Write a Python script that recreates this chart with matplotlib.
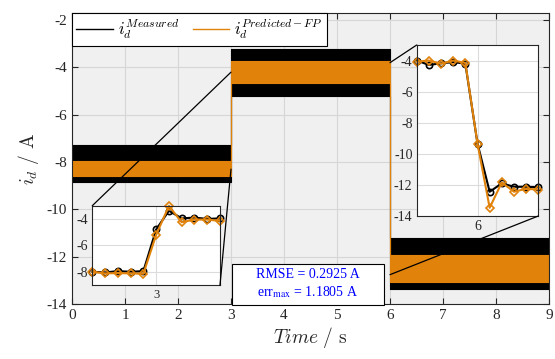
import numpy as np
import matplotlib
matplotlib.use("Agg")
import matplotlib.pyplot as plt
from matplotlib.patches import ConnectionPatch, Rectangle

plt.rcParams['font.family'] = ['Liberation Serif', 'DejaVu Serif']
plt.rcParams['mathtext.fontset'] = 'cm'

# --- data ---
# noisy traces, drawn as envelopes per segment (t in s, i_d in A)
seg_t = [0, 3, 3, 6, 6, 9]
meas_hi = [-7.3, -7.3, -3.22, -3.22, -11.2, -11.2]
meas_lo = [-8.85, -8.85, -5.2, -5.2, -13.38, -13.38]
pred_hi = [-7.95, -7.95, -3.72, -3.72, -11.93, -11.93]
pred_lo = [-8.58, -8.58, -4.67, -4.67, -13.06, -13.06]

# zoom 1 (around t = 3 s)
t_z1 = [2.9995, 2.9996, 2.9997, 2.9998, 2.9999, 3.0, 3.0001, 3.0002, 3.0003, 3.0004, 3.0005]
meas_z1 = [-8.0, -8.05, -7.95, -8.0, -7.95, -4.8, -3.38, -3.96, -3.9, -4.0, -3.96]
pred_z1 = [-8.0, -8.12, -8.1, -8.12, -8.15, -5.2, -3.02, -4.25, -4.05, -4.05, -4.15]

# zoom 2 (around t = 6 s)
t_z2 = [5.9995, 5.9996, 5.9997, 5.9998, 5.9999, 6.0, 6.0001, 6.0002, 6.0003, 6.0004, 6.0005]
meas_z2 = [-4.0, -4.28, -4.18, -4.1, -4.2, -9.34, -12.44, -11.9, -12.12, -12.12, -12.15]
pred_z2 = [-4.07, -4.0, -4.2, -4.0, -4.15, -9.34, -13.47, -11.84, -12.44, -12.25, -12.3]

# where the zoom connector lines end on the main plot
conn_z1 = [(3.0, -4.2), (3.0, -8.3)]
conn_z2 = [(6.0, -3.8), (6.0, -12.76)]

rmse_txt = "RMSE = 0.2925 A"
errmax_txt = r"err$_{\mathrm{max}}$ = 1.1805 A"

c_meas = 'black'
c_pred = '#e1820a'
tick_c = '#262626'

W, H = 555, 359
fig = plt.figure(figsize=(W / 100, H / 100), dpi=100)

def px_box(l, t, r, b):
    return [l / W, 1 - b / H, (r - l) / W, (b - t) / H]

ax = fig.add_axes(px_box(72, 13, 549, 304))
ax.set_facecolor('#f0f0f0')

ax.fill_between(seg_t, meas_lo, meas_hi, color=c_meas, linewidth=0.8)
ax.fill_between(seg_t, pred_lo, pred_hi, color=c_pred, linewidth=0.8)
ax.plot([], [], color=c_meas, lw=1, label=r'$i_d^{Measured}$')
ax.plot([], [], color=c_pred, lw=1, label=r'$i_d^{Predicted-FP}$')

ax.set_xlim(0, 9)
ax.set_ylim(-14, -1.7)
ax.set_xticks(range(0, 10))
ax.set_yticks(range(-14, -1, 2))
ax.set_yticklabels([str(v) for v in range(-14, -1, 2)])
ax.grid(True, color='#d6d6d6', linewidth=0.8)
ax.set_axisbelow(True)
ax.tick_params(direction='in', top=True, right=True, labelsize=11,
               colors=tick_c, length=4)
for s in ax.spines.values():
    s.set_color(tick_c)
    s.set_linewidth(0.8)
ax.set_xlabel(r'$Time\ /\ \mathrm{s}$', fontsize=14, color=tick_c, labelpad=2)
ax.set_ylabel(r'$i_d\ /\ \mathrm{A}$', fontsize=14, color=tick_c, labelpad=4)

leg = ax.legend(loc='upper left', ncol=2, borderaxespad=0, fontsize=12,
                fancybox=False, framealpha=1, edgecolor='black',
                handlelength=2.2, columnspacing=0.8, handletextpad=0.3,
                borderpad=0.25)
leg.get_frame().set_linewidth(0.8)


def inset(box, t, meas, pred, xt, yt, ylim):
    a = fig.add_axes(box)
    a.set_facecolor('white')
    a.plot(t, meas, color=c_meas, lw=1.5, marker='o', ms=4.5, mfc='none', mew=1.2,
           clip_on=False)
    a.plot(t, pred, color=c_pred, lw=1.5, marker='D', ms=4.2, mfc='none', mew=1.2,
           clip_on=False)
    a.set_xlim(t[0], t[-1])
    a.set_ylim(*ylim)
    a.set_xticks(xt)
    a.set_xticklabels([str(int(round(v))) for v in xt])
    a.set_yticks(yt)
    a.set_yticklabels([str(v) for v in yt])
    a.grid(True, color='#dcdcdc', linewidth=0.8)
    a.set_axisbelow(True)
    a.tick_params(direction='in', length=0, labelsize=10, colors=tick_c, pad=3)
    for s in a.spines.values():
        s.set_color(tick_c)
        s.set_linewidth(0.8)
    return a


ax1 = inset(px_box(92.3, 205.7, 220, 285), t_z1, meas_z1, pred_z1,
            [3], [-8, -6, -4], (-9, -3))
ax1.tick_params(axis='x', labelsize=9)
ax2 = inset(px_box(416.7, 45, 538.3, 216), t_z2, meas_z2, pred_z2,
            [6], [-14, -12, -10, -8, -6, -4], (-14, -3))

for a, corners, targets in [(ax1, [(0, 1), (1, 0)], conn_z1),
                            (ax2, [(0, 1), (1, 0)], conn_z2)]:
    for c, p in zip(corners, targets):
        con = ConnectionPatch(xyA=c, coordsA=a.transAxes, xyB=p, coordsB=ax.transData,
                              color='black', lw=0.9)
        fig.add_artist(con)

# RMSE box
fig.add_artist(Rectangle((231.7 / W, 1 - 305 / H), 152.3 / W, 41 / H,
                         transform=fig.transFigure, facecolor='white',
                         edgecolor='black', lw=0.8))
fig.text(308 / W, 1 - 275 / H, rmse_txt, color='blue', fontsize=10,
         ha='center', va='center')
fig.text(308 / W, 1 - 292 / H, errmax_txt, color='blue', fontsize=10,
         ha='center', va='center', math_fontfamily='stix')

fig.savefig('out.png', dpi=100)
